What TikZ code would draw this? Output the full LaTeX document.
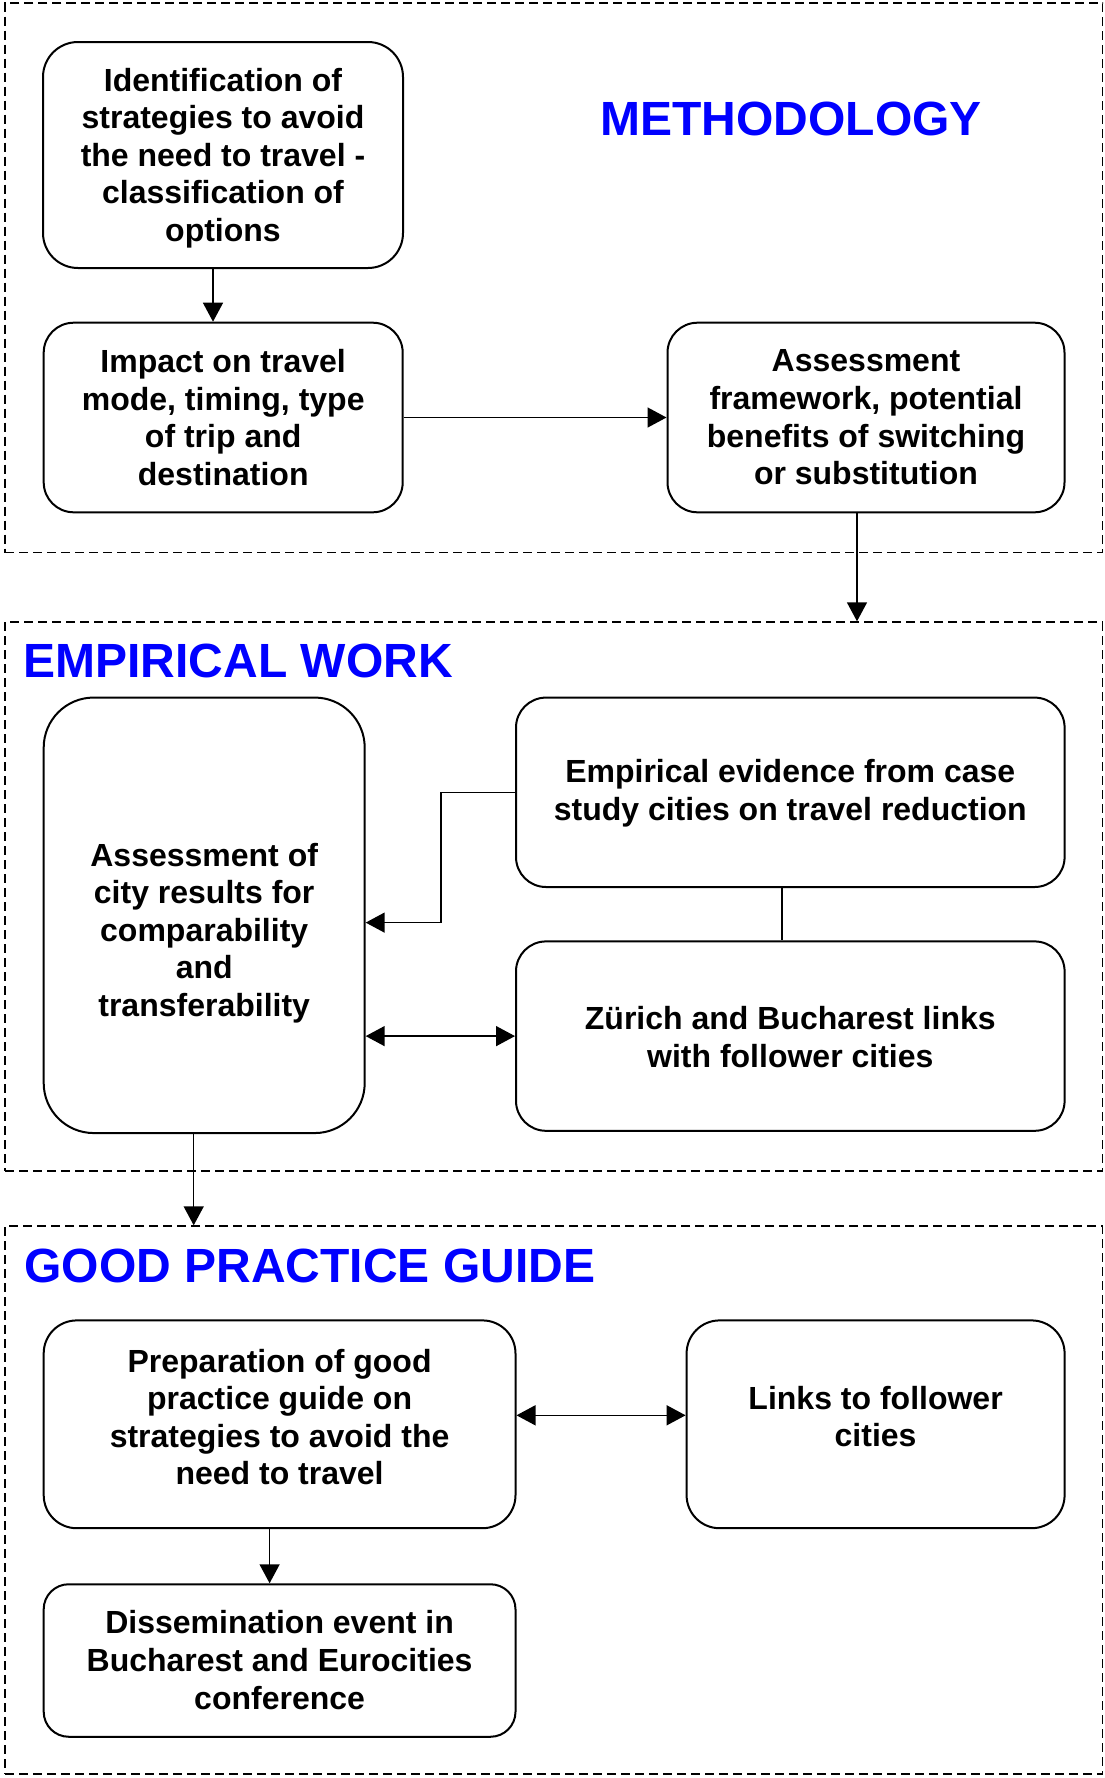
\documentclass[tikz,border=0pt]{standalone}
\usepackage{fontspec}
\setmainfont{Liberation Sans}
\usetikzlibrary{arrows.meta,calc}
\definecolor{titleblue}{RGB}{0,0,255}

\begin{document}
\begin{tikzpicture}[x=0.5pt,y=-0.5pt,
  box/.style={draw=black, line width=1pt, fill=white, rectangle, inner sep=0pt},
  txt/.style={align=center, font=\bfseries\fontsize{16}{18.8}\selectfont, inner sep=0pt},
  heading/.style={font=\bfseries\fontsize{24}{27.6}\selectfont, text=titleblue, anchor=base west, inner sep=0pt},
  zone/.style={draw=black, line width=0.7pt, dash pattern=on 4.5pt off 2.5pt, rectangle, inner sep=0pt,
    minimum width=548.75pt},
  conn/.style={draw=black, line width=0.75pt},
  arr/.style={conn, -{Triangle[length=9.5pt,width=10pt]}},
  dbl/.style={conn, {Triangle[length=9.5pt,width=10pt]}-{Triangle[length=9.5pt,width=10pt]}},
]
\useasboundingbox (0,0) rectangle (1104,1778);
\fill[white] (0,0) rectangle (1104,1778);

% dashed section frames
\node[zone, minimum height=274.75pt] (methzone) at (553.75,277.75) {};
\node[zone, minimum height=274.5pt] (empzone) at (553.75,896.5) {};
\node[zone, minimum height=274pt] (gpzone) at (553.75,1500) {};

% section headings
\node[heading] (methtitle) at (600,135) {METHODOLOGY};
\node[heading] (emptitle) at (23,677.7) {EMPIRICAL WORK};
\node[heading] (gptitle) at (24,1282) {GOOD PRACTICE GUIDE};

% methodology boxes
\node[box, rounded corners=17.5pt, minimum width=180pt, minimum height=113pt] (ident) at (223,155) {};
\node[txt] (ident-t) at (223,158) {Identification of\\strategies to avoid\\the need to travel -\\classification of\\options};

\node[box, rounded corners=15pt, minimum width=179.5pt, minimum height=94.8pt] (impact) at (223.2,417.5) {};
\node[txt] (impact-t) at (223.2,417.5) {Impact on travel\\mode, timing, type\\of trip and\\destination};

\node[box, rounded corners=15pt, minimum width=198.5pt, minimum height=94.8pt] (assessfw) at (866,417.5) {};
\node[txt] (assessfw-t) at (866,417.5) {Assessment\\framework, potential\\benefits of switching\\or substitution};

% empirical work boxes
\node[box, rounded corners=25pt, minimum width=160.5pt, minimum height=217.75pt] (compar) at (204.2,915.3) {};
\node[txt] (compar-t) at (204.2,933) {Assessment of\\city results for\\comparability\\and\\transferability};

\node[box, rounded corners=15pt, minimum width=274.3pt, minimum height=94.7pt] (evid) at (790.3,792.3) {};
\node[txt] (evid-t) at (790.3,793) {Empirical evidence from case\\study cities on travel reduction};

\node[box, rounded corners=15pt, minimum width=274.3pt, minimum height=94.7pt] (zurich) at (790.3,1036.1) {};
\node[txt] (zurich-t) at (790.3,1037) {Zürich and Bucharest links\\with follower cities};

% good practice guide boxes
\node[box, rounded corners=16.5pt, minimum width=235.9pt, minimum height=103.9pt] (prep) at (279.6,1424.3) {};
\node[txt] (prep-t) at (279.6,1417) {Preparation of good\\practice guide on\\strategies to avoid the\\need to travel};

\node[box, rounded corners=16.5pt, minimum width=189pt, minimum height=103.9pt] (links) at (875.6,1424.3) {};
\node[txt] (links-t) at (875.6,1416.5) {Links to follower\\cities};

\node[box, rounded corners=12.5pt, minimum width=235.9pt, minimum height=76.25pt] (dissem) at (279.6,1660.5) {};
\node[txt] (dissem-t) at (279.6,1660) {Dissemination event in\\Bucharest and Eurocities\\conference};

% connectors
\draw[arr] ($(ident.south)+(-10,0)$) coordinate (a1) -- (a1 |- impact.north);
\draw[arr] (impact.east) -- (assessfw.west);
\draw[arr] ($(assessfw.south)+(-9,0)$) coordinate (a2) -- (a2 |- empzone.north);

\coordinate (elbow) at (441,922.6);
\draw[arr] (evid.west) -| (elbow) -- (elbow -| compar.east);
\draw[conn] ($(evid.south)+(-8.5,0)$) coordinate (a3) -- (a3 |- zurich.north);
\draw[dbl] (zurich.west -| compar.east) -- (zurich.west);
\draw[arr] ($(compar.south)+(-10.5,0)$) coordinate (a4) -- (a4 |- gpzone.north);

\draw[dbl] ($(prep.east)+(0,-9)$) coordinate (a5) -- (a5 -| links.west);
\draw[arr] ($(prep.south)+(-10,0)$) coordinate (a6) -- (a6 |- dissem.north);
\end{tikzpicture}
\end{document}
